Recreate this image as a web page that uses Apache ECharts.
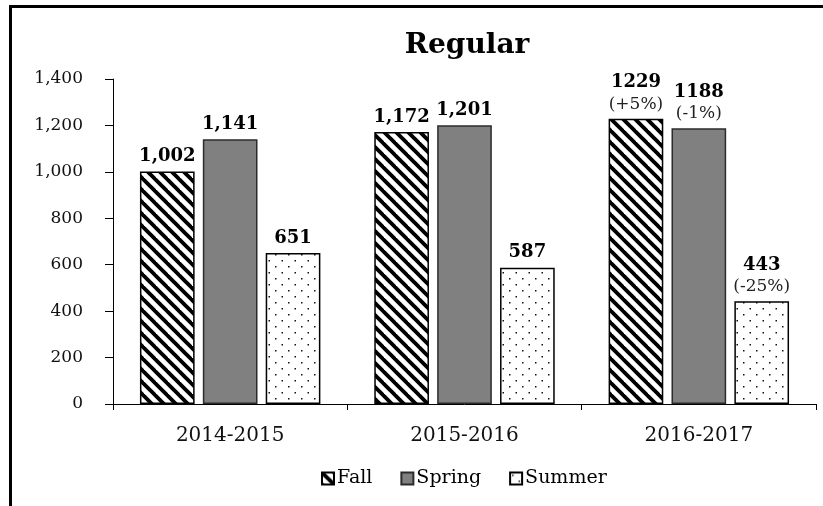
<!DOCTYPE html>
<html>
<head>
<meta charset="utf-8">
<script src="https://cdn.jsdelivr.net/npm/echarts@6/dist/echarts.min.js"></script>
<style>
html,body{margin:0;padding:0;background:#fff;}
#chart{width:823px;height:506px;}
</style>
</head>
<body>
<div id="chart"></div>
<script>
// ---- data ----
var categories = ['2014-2015', '2015-2016', '2016-2017'];
var seriesNames = ['Fall', 'Spring', 'Summer'];
var fall = [1002, 1172, 1229];
var spring = [1141, 1201, 1188];
var summer = [651, 587, 443];
var fallText = ['1,002', '1,172', '1229'];
var springText = ['1,141', '1,201', '1188'];
var summerText = ['651', '587', '443'];
var fallChange = ['', '', '(+5%)'];
var springChange = ['', '', '(-1%)'];
var summerChange = ['', '', '(-25%)'];
var yTicks = [0, 200, 400, 600, 800, 1000, 1200, 1400];

// ---- patterns ----
function hatchCanvas() {
  var s = 12, c = document.createElement('canvas');
  c.width = s; c.height = s;
  var ctx = c.getContext('2d');
  ctx.fillStyle = '#fff'; ctx.fillRect(0, 0, s, s);
  ctx.strokeStyle = '#000'; ctx.lineWidth = 3.8;
  for (var k = -1; k <= 1; k++) {
    ctx.beginPath();
    ctx.moveTo(k * s - 3, -3);
    ctx.lineTo(k * s + s + 3, s + 3);
    ctx.stroke();
  }
  return c;
}
function dotCanvas() {
  var w = 13, h = 12, c = document.createElement('canvas');
  c.width = w; c.height = h;
  var ctx = c.getContext('2d');
  ctx.fillStyle = '#fff'; ctx.fillRect(0, 0, w, h);
  ctx.fillStyle = '#111';
  ctx.fillRect(2, 2, 1.5, 1.5);
  ctx.fillRect(8.5, 8, 1.5, 1.5);
  return c;
}

var FONT = 'DejaVu Serif';

function makeLabel(texts, changes) {
  return {
    show: true,
    position: 'top',
    distance: 4,
    formatter: function (p) {
      var t = '{b|' + texts[p.dataIndex] + '}';
      if (changes[p.dataIndex]) t += '\n{n|' + changes[p.dataIndex] + '}';
      return t;
    },
    rich: {
      b: {fontFamily: FONT, fontSize: 18, fontWeight: 'bold', color: '#000', lineHeight: 22},
      n: {fontFamily: FONT, fontSize: 17, color: '#222', lineHeight: 21}
    }
  };
}

var chart = echarts.init(document.getElementById('chart'), null, {renderer: 'canvas'});
var option = {
  animation: false,
  backgroundColor: '#fff',
  title: {
    text: 'Regular',
    left: 462,
    top: 27,
    textAlign: 'center',
    textStyle: {fontFamily: FONT, fontSize: 28, fontWeight: 'bold', color: '#000'}
  },
  legend: {
    data: seriesNames,
    bottom: 13,
    left: 316,
    itemWidth: 12,
    itemHeight: 12,
    itemGap: 28,
    icon: 'rect',
    textStyle: {fontFamily: FONT, fontSize: 19, color: '#000', padding: [0, 0, 0, -2]}
  },
  grid: {left: 113, right: 7, top: 79, bottom: 102, containLabel: false},
  xAxis: {
    type: 'category',
    data: categories,
    axisLine: {lineStyle: {color: '#000', width: 1}},
    axisTick: {show: true, length: 6, lineStyle: {color: '#000'}},
    axisLabel: {fontFamily: FONT, fontSize: 20, color: '#111', margin: 22}
  },
  yAxis: {
    type: 'value',
    min: yTicks[0],
    max: yTicks[yTicks.length - 1],
    interval: yTicks[1] - yTicks[0],
    splitLine: {show: false},
    axisLine: {show: true, lineStyle: {color: '#000', width: 1}},
    axisTick: {show: true, length: 8, lineStyle: {color: '#000'}},
    axisLabel: {
      fontFamily: FONT, fontSize: 17, color: '#111', margin: 30,
      formatter: function (v) { return v.toLocaleString('en-US'); }
    }
  },
  series: [
    {
      name: seriesNames[0], type: 'bar', data: fall,
      barGap: '15%', barCategoryGap: '23%',
      itemStyle: {color: {image: hatchCanvas(), repeat: 'repeat'}, borderColor: '#000', borderWidth: 1.5},
      label: makeLabel(fallText, fallChange)
    },
    {
      name: seriesNames[1], type: 'bar', data: spring,
      barGap: '15%', barCategoryGap: '23%',
      itemStyle: {color: '#808080', borderColor: '#2b2b2b', borderWidth: 1.5},
      label: makeLabel(springText, springChange)
    },
    {
      name: seriesNames[2], type: 'bar', data: summer,
      barGap: '15%', barCategoryGap: '23%',
      itemStyle: {color: {image: dotCanvas(), repeat: 'repeat'}, borderColor: '#000', borderWidth: 1.5},
      label: makeLabel(summerText, summerChange)
    }
  ],
  graphic: [{
    type: 'rect',
    silent: true,
    shape: {x: 10.5, y: 6.5, width: 1000, height: 1000},
    style: {fill: 'none', stroke: '#000', lineWidth: 3},
    z: 100
  }]
};
chart.setOption(option);
</script>
</body>
</html>
